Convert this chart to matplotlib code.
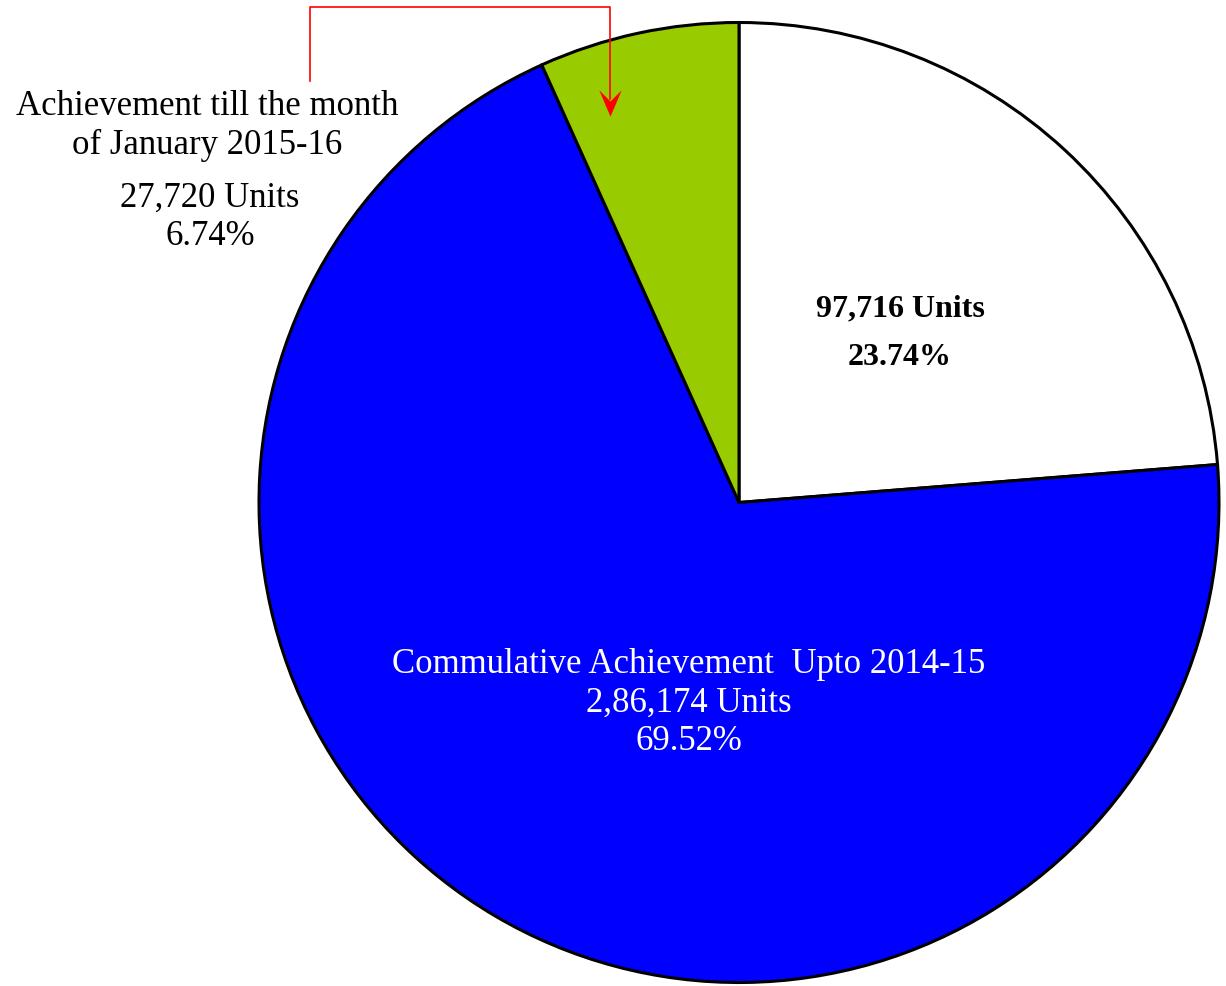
import matplotlib.pyplot as plt
from matplotlib.path import Path

# slice data, clockwise from 12 o'clock
labels = ['Target remaining', 'Commulative Achievement  Upto 2014-15',
          'Achievement till the month of January 2015-16']
units = ['97,716', '2,86,174', '27,720']
shares = [23.74, 69.52, 6.74]
colors = ['#FFFFFF', '#0000FF', '#99CC00']

W, H = 1226, 987
fig = plt.figure(figsize=(W / 100, H / 100), dpi=100)
ax = fig.add_axes([0, 0, 1, 1])

cx, cy, r = 739, H - 503.5, 480
ax.pie(shares, colors=colors, startangle=90, counterclock=False,
       center=(cx, cy), radius=r,
       wedgeprops=dict(edgecolor='black', linewidth=2.2))
ax.set_xlim(0, W)
ax.set_ylim(0, H)
ax.set_aspect('equal')
ax.axis('off')

font = 'Liberation Serif'


def put(x, y, s, **kw):
    # y is the baseline, measured from the top of the image
    ax.text(x, H - y, s, ha='center', va='baseline', family=font, **kw)


# white slice label (bold)
put(900, 316, units[0] + ' Units', fontsize=23, fontweight='bold')
put(900, 365, f'{shares[0]:.2f}%', fontsize=23, fontweight='bold')

# blue slice label
put(689, 673, labels[1], fontsize=25, color='white')
put(689, 712, units[1] + ' Units', fontsize=25, color='white')
put(689, 750, f'{shares[1]:.2f}%', fontsize=25, color='white')

# green slice label, outside the pie
put(207, 115, 'Achievement till the month', fontsize=25)
put(207, 154, 'of January 2015-16', fontsize=25)
put(210, 207, units[2] + ' Units', fontsize=25)
put(210, 245, f'{shares[2]:.2f}%', fontsize=25)

# red leader line with a barbed arrow head into the green slice
ax.plot([310, 310, 610, 610], [H - 82, H - 8, H - 8, H - 100],
        color='red', lw=1.2)
head = Path([(0, -1), (-0.85, 1), (0, 0.15), (0.85, 1), (0, -1)],
            [Path.MOVETO, Path.LINETO, Path.LINETO, Path.LINETO,
             Path.CLOSEPOLY])
ax.plot([610], [H - 104], marker=head, markersize=19, color='red',
        markeredgewidth=0)

fig.savefig('out.png', dpi=100)
